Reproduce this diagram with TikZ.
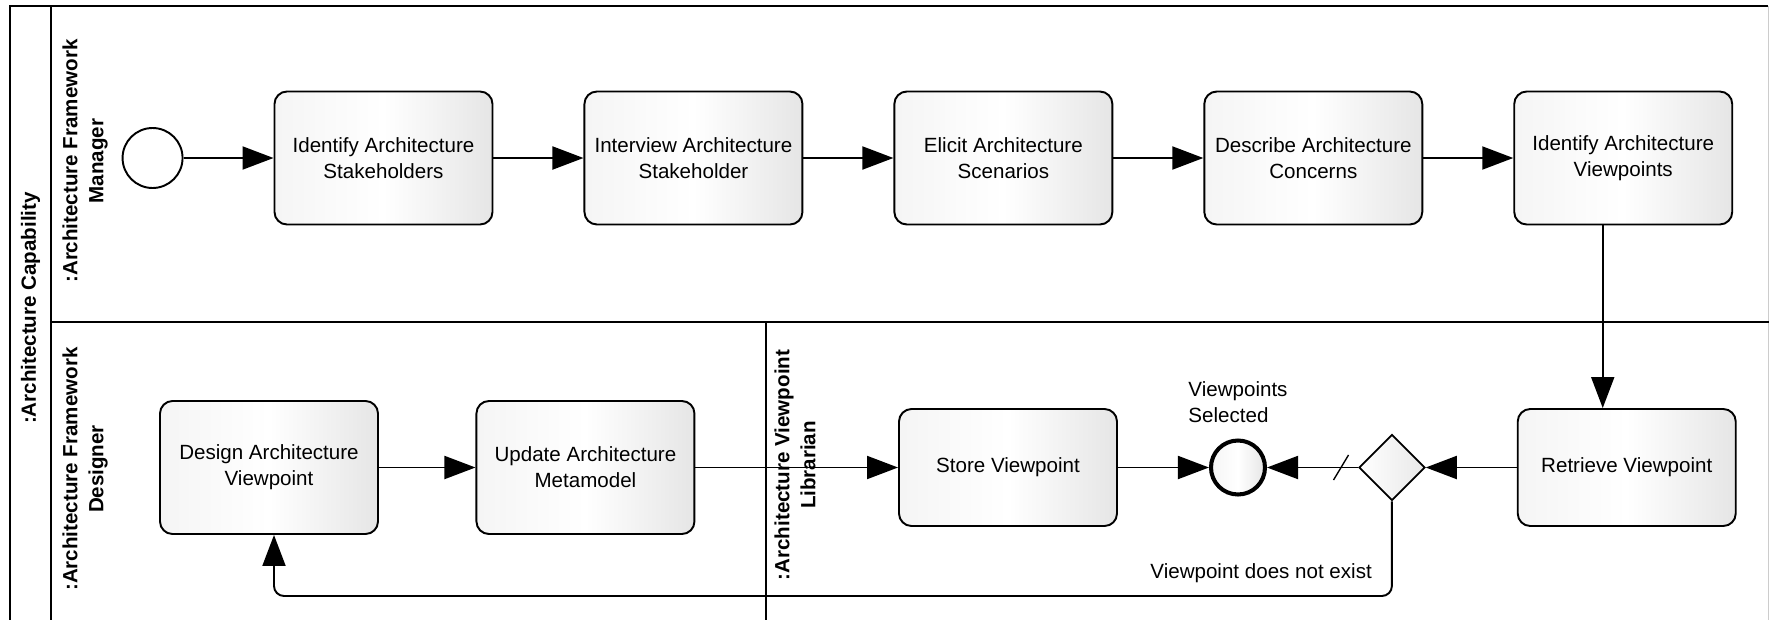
\documentclass[tikz,border=0pt]{standalone}
\usepackage{fontspec}
\setmainfont{Liberation Sans}
\usepackage{tikz}
\usetikzlibrary{positioning,shapes.geometric,arrows.meta}

\begin{document}
\begin{tikzpicture}[
  task/.style={draw,rounded corners=2.5mm,line width=1.1pt,minimum width=4.36cm,minimum height=2.66cm,align=center,left color=gray!8,right color=gray!20,middle color=white},
  short/.style={task,minimum height=2.34cm},
  lane/.style={rotate=90,align=center,font=\fontsize{11.7}{14.8}\selectfont\bfseries},
  flow/.style={line width=1.1pt,-{Triangle[length=6.2mm,width=4.6mm]}},
  every node/.style={font=\fontsize{11.7}{14.8}\selectfont},
  node distance=1.8cm
  ]
  \useasboundingbox (0,0) rectangle (35.38,-12.38);
  \clip (0,0) rectangle (35.38,-12.38);

  % pool and lanes
  \draw[line width=1.4pt] (0.2,-13) |- (35.36,-0.12);
  \draw[gray!40] (35.36,-0.12) -- (35.36,-13);
  \draw[line width=1.4pt] (1.02,-0.12) -- (1.02,-13);
  \draw[line width=1.4pt] (1.02,-6.44) -- (35.4,-6.44);
  \draw[line width=1.2pt] (15.32,-6.44) -- (15.32,-13);

  \node[lane] (pool) at (0.61,-6.16) {:Architecture Capability};
  \node[lane] (mgr) at (1.7,-3.22) {:Architecture Framework\\Manager};
  \node[lane] (dsg) at (1.7,-9.38) {:Architecture Framework\\Designer};
  \node[lane] (lib) at (15.9,-9.3) {:Architecture Viewpoint\\Librarian};

  % manager lane
  \node[task] (stk) at (7.67,-3.16) {Identify Architecture\\Stakeholders};
  \node[draw,circle,line width=1.1pt,minimum size=1.2cm,left=of stk] (start) {};
  \node[task,right=of stk] (intv) {Interview Architecture\\Stakeholder};
  \node[task,right=of intv] (scen) {Elicit Architecture\\Scenarios};
  \node[task,right=of scen] (conc) {Describe Architecture\\Concerns};
  \node[task,right=of conc] (idvp) {Identify Architecture\\Viewpoints};

  % designer and librarian lanes
  \node[task] (design) at (5.38,-9.35) {Design Architecture\\Viewpoint};
  \node[task,right=1.93cm of design] (meta) {Update Architecture\\Metamodel};
  \node[short] (store) at (20.16,-9.35) {Store Viewpoint};
  \node[draw,circle,line width=2.3pt,minimum size=1.08cm,left color=gray!8,right color=gray!20,middle color=white,right=1.82cm of store] (done) {};
  \node[draw,diamond,aspect=1,inner sep=0pt,minimum size=1.32cm,line width=1pt,left color=white,right color=gray!18,right=1.82cm of done] (gate) {};
  \node[short,right=1.82cm of gate] (fetch) {Retrieve Viewpoint};
  \node[above=2mm of done,align=left] (sel) {Viewpoints\\Selected};

  \draw[flow] (start) -- (stk);
  \draw[flow] (stk) -- (intv);
  \draw[flow] (intv) -- (scen);
  \draw[flow] (scen) -- (conc);
  \draw[flow] (conc) -- (idvp);
  \coordinate (down) at ([xshift=-4.8mm]fetch.north);
  \draw[flow] (idvp.south -| down) -- (down);
  \draw[flow] (fetch) -- (gate);
  \draw[flow] (gate) -- (done);
  \draw[line width=0.8pt] ([xshift=-3.4mm]gate.west) ++(-0.15,-0.25) -- ++(0.3,0.5);
  \draw[flow] (store) -- (done);
  \draw[flow] (design) -- (meta);
  \draw[flow] (meta) -- (store);
  \coordinate (back) at (5.48,-11.92);
  \draw[flow,rounded corners=2mm] (gate.south) |- (back) -- (back |- design.south);
  \node[anchor=east] (nolbl) at (27.56,-11.46) {Viewpoint does not exist};
\end{tikzpicture}
\end{document}
